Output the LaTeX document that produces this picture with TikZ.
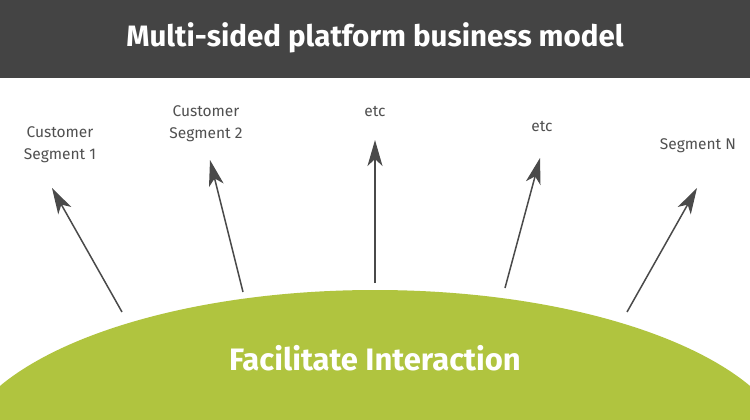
\documentclass[tikz,border=0pt]{standalone}
\usepackage{fontspec}
\setmainfont{Fira Sans}
\usetikzlibrary{arrows.meta}
\definecolor{hdr}{HTML}{444444}
\definecolor{grn}{HTML}{B0C43F}
\definecolor{txt}{HTML}{505050}
\definecolor{arr}{HTML}{4A4A4A}
\tikzset{lab/.style={text=txt,font=\fontsize{15.5}{22}\selectfont,align=center},
 arw/.style={draw=arr,line width=1.5pt,-{Stealth[length=26pt,width=15pt,inset=7pt]}}}
\begin{document}
\begin{tikzpicture}[x=1pt,y=-1pt]
\useasboundingbox (0,0) rectangle (750,420);
\fill[white] (0,0) rectangle (750,420);
\fill[hdr] (0,0) rectangle (750,78);
\node[text=white,font=\fontsize{29.5}{34}\selectfont\bfseries] (title) at (375,38) {Multi-sided platform business model};
\begin{scope}
\clip (0,0) rectangle (750,420);
\fill[grn] (375,462) ellipse [x radius=418, y radius=172];
\end{scope}
\node[text=white,font=\fontsize{31}{36}\selectfont\bfseries] (fi) at (375,358) {Facilitate Interaction};
\coordinate (s1) at (122,312); \coordinate (e1) at (52,188);
\coordinate (s2) at (243,292); \coordinate (e2) at (210,160);
\coordinate (s3) at (375,283); \coordinate (e3) at (375,140);
\coordinate (s4) at (505,288); \coordinate (e4) at (540,158);
\coordinate (s5) at (627,312); \coordinate (e5) at (697,188);
\foreach \i in {1,...,5} \draw[arw] (s\i) -- (e\i);
\node[lab] (l1) at (60,145) {Customer\\Segment 1};
\node[lab] (l2) at (206,124) {Customer\\Segment 2};
\node[lab] (l3) at (375,112) {etc};
\node[lab] (l4) at (542,127) {etc};
\node[lab] (l5) at (698,146) {Segment N};
\end{tikzpicture}
\end{document}
